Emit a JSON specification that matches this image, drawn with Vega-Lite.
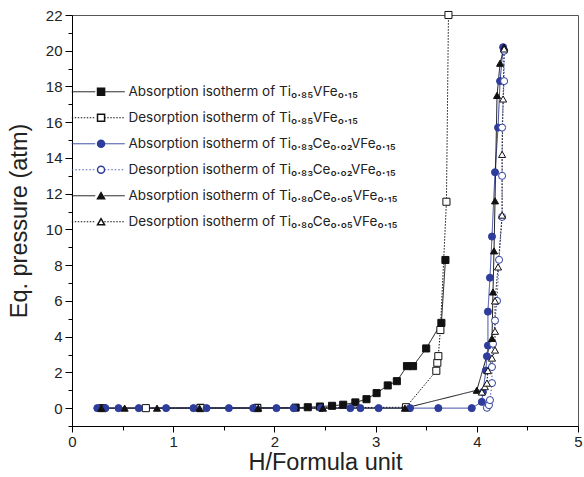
{
  "$schema": "https://vega.github.io/schema/vega-lite/v6.json",
  "width": 506,
  "height": 411,
  "autosize": "none",
  "padding": {"left": 72, "top": 15, "right": 6, "bottom": 51},
  "config": {
    "font": "Liberation Sans",
    "view": {"stroke": "#555", "strokeWidth": 1},
    "axis": {"domainColor": "#000", "tickColor": "#000", "labelColor": "#222", "titleColor": "#222", "grid": false, "labelFontSize": 15, "titleFontSize": 23.5, "titleFontWeight": "normal", "labelOverlap": false, "labelFlush": false, "tickWidth": 1, "domainWidth": 1}
  },
  "data": {"values": [
    {"s":"s1","i":1,"x":0.30,"y":0},{"s":"s1","i":2,"x":1.27,"y":0.02},{"s":"s1","i":3,"x":1.83,"y":0.02},{"s":"s1","i":4,"x":2.21,"y":0.03},{"s":"s1","i":5,"x":2.33,"y":0.05},{"s":"s1","i":6,"x":2.45,"y":0.09},{"s":"s1","i":7,"x":2.57,"y":0.13},{"s":"s1","i":8,"x":2.68,"y":0.19},{"s":"s1","i":9,"x":2.80,"y":0.32},{"s":"s1","i":10,"x":2.91,"y":0.5},{"s":"s1","i":11,"x":3.01,"y":0.84},{"s":"s1","i":12,"x":3.12,"y":1.27},{"s":"s1","i":13,"x":3.21,"y":1.51},{"s":"s1","i":14,"x":3.31,"y":2.35},{"s":"s1","i":15,"x":3.37,"y":2.35},{"s":"s1","i":16,"x":3.50,"y":3.34},{"s":"s1","i":17,"x":3.65,"y":4.77},{"s":"s1","i":18,"x":3.69,"y":8.29},
    {"s":"s2","i":20,"x":0.73,"y":0},{"s":"s2","i":21,"x":1.27,"y":0},{"s":"s2","i":22,"x":1.83,"y":0},{"s":"s2","i":23,"x":3.30,"y":0.05},{"s":"s2","i":24,"x":3.60,"y":2.09},{"s":"s2","i":25,"x":3.61,"y":2.54},{"s":"s2","i":26,"x":3.62,"y":2.91},{"s":"s2","i":27,"x":3.64,"y":4.37},{"s":"s2","i":28,"x":3.70,"y":11.55},{"s":"s2","i":29,"x":3.72,"y":22},
    {"s":"s3","i":31,"x":0.25,"y":0},{"s":"s3","i":32,"x":0.33,"y":0},{"s":"s3","i":33,"x":0.46,"y":0},{"s":"s3","i":34,"x":0.66,"y":0},{"s":"s3","i":35,"x":0.93,"y":0},{"s":"s3","i":36,"x":1.20,"y":0},{"s":"s3","i":37,"x":1.33,"y":0},{"s":"s3","i":38,"x":1.55,"y":0},{"s":"s3","i":39,"x":1.79,"y":0},{"s":"s3","i":40,"x":2.02,"y":0},{"s":"s3","i":41,"x":2.19,"y":0},{"s":"s3","i":42,"x":2.46,"y":0},{"s":"s3","i":43,"x":2.75,"y":0},{"s":"s3","i":44,"x":2.85,"y":0},{"s":"s3","i":45,"x":3.03,"y":0},{"s":"s3","i":46,"x":3.34,"y":0},{"s":"s3","i":47,"x":3.62,"y":0},{"s":"s3","i":48,"x":3.95,"y":0},{"s":"s3","i":49,"x":4.05,"y":0.35},{"s":"s3","i":50,"x":4.06,"y":0.9},{"s":"s3","i":51,"x":4.09,"y":2.1},{"s":"s3","i":52,"x":4.10,"y":2.9},{"s":"s3","i":53,"x":4.11,"y":3.5},{"s":"s3","i":54,"x":4.11,"y":5.4},{"s":"s3","i":55,"x":4.13,"y":7.3},{"s":"s3","i":56,"x":4.15,"y":9.6},{"s":"s3","i":57,"x":4.18,"y":13.2},{"s":"s3","i":58,"x":4.21,"y":15.7},{"s":"s3","i":59,"x":4.23,"y":18.3},{"s":"s3","i":60,"x":4.26,"y":20.2},
    {"s":"s4","i":61,"x":4.10,"y":0.02},{"s":"s4","i":62,"x":4.12,"y":0.17},{"s":"s4","i":63,"x":4.13,"y":0.45},{"s":"s4","i":64,"x":4.15,"y":1.4},{"s":"s4","i":65,"x":4.15,"y":2.3},{"s":"s4","i":66,"x":4.16,"y":3.6},{"s":"s4","i":67,"x":4.18,"y":4.9},{"s":"s4","i":68,"x":4.20,"y":6.0},{"s":"s4","i":69,"x":4.22,"y":8.3},{"s":"s4","i":70,"x":4.25,"y":10.7},{"s":"s4","i":71,"x":4.25,"y":13.0},{"s":"s4","i":72,"x":4.25,"y":15.7},{"s":"s4","i":73,"x":4.27,"y":18.3},{"s":"s4","i":74,"x":4.27,"y":20.0},
    {"s":"s5","i":75,"x":0.29,"y":0},{"s":"s5","i":76,"x":0.52,"y":0},{"s":"s5","i":77,"x":0.84,"y":0},{"s":"s5","i":78,"x":1.26,"y":0},{"s":"s5","i":79,"x":1.84,"y":0},{"s":"s5","i":80,"x":2.48,"y":0},{"s":"s5","i":81,"x":3.29,"y":0},{"s":"s5","i":82,"x":4.00,"y":1.0},{"s":"s5","i":83,"x":4.15,"y":3.9},{"s":"s5","i":84,"x":4.16,"y":6.5},{"s":"s5","i":85,"x":4.17,"y":8.8},{"s":"s5","i":86,"x":4.18,"y":11.6},{"s":"s5","i":87,"x":4.20,"y":17.5},{"s":"s5","i":88,"x":4.23,"y":19.3},{"s":"s5","i":89,"x":4.27,"y":20.2},
    {"s":"s6","i":90,"x":4.05,"y":0.9},{"s":"s6","i":91,"x":4.08,"y":1.2},{"s":"s6","i":92,"x":4.10,"y":1.4},{"s":"s6","i":93,"x":4.11,"y":2.1},{"s":"s6","i":94,"x":4.15,"y":2.8},{"s":"s6","i":95,"x":4.18,"y":3.25},{"s":"s6","i":96,"x":4.18,"y":4.3},{"s":"s6","i":97,"x":4.18,"y":6.0},{"s":"s6","i":98,"x":4.21,"y":7.9},{"s":"s6","i":99,"x":4.25,"y":10.8},{"s":"s6","i":100,"x":4.25,"y":14.2},{"s":"s6","i":101,"x":4.26,"y":17.3},{"s":"s6","i":102,"x":4.27,"y":20.1}
  ]},
  "encoding": {
    "x": {"field": "x", "type": "quantitative", "scale": {"domain": [0, 5], "nice": false, "zero": false},
      "axis": {"values": [0,0.5,1,1.5,2,2.5,3,3.5,4,4.5,5], "labelExpr": "datum.value % 1 === 0 ? format(datum.value,'d') : ''", "tickSize": {"condition": {"test": "datum.value % 1 === 0", "value": 6}, "value": 4}, "labelPadding": 2, "title": "H/Formula unit", "titlePadding": 1}},
    "y": {"field": "y", "type": "quantitative", "scale": {"domain": [-1, 22], "nice": false, "zero": false},
      "axis": {"values": [-1,0,1,2,3,4,5,6,7,8,9,10,11,12,13,14,15,16,17,18,19,20,21,22], "labelExpr": "datum.value % 2 === 0 ? format(datum.value,'d') : ''", "tickSize": {"condition": {"test": "datum.value % 2 === 0", "value": 7}, "value": 4}, "labelPadding": 3, "title": "Eq. pressure (atm)", "titlePadding": 14}}
  },
  "layer": [
    {
      "mark": {"type": "line", "strokeWidth": 1},
      "encoding": {
        "order": {"field": "i", "type": "quantitative"},
        "color": {"field": "s", "type": "nominal",
          "scale": {"domain": ["s1","s2","s3","s4","s5","s6"], "range": ["#111","#111","#2e3d9c","#4a5bc0","#111","#111"]},
          "legend": {"orient": "none", "legendX": 21, "legendY": 70, "title": null, "padding": 0, "symbolSize": 100, "symbolStrokeWidth": 1, "labelOffset": 22, "labelFont": "Inter", "labelFontSize": 13.5, "labelLimit": 0, "labelColor": "#222", "rowPadding": 11,
            "labelExpr": "datum.value==='s1' ? 'Absorption isotherm of Ti₀.₈₅VFe₀.₁₅' : datum.value==='s2' ? 'Desorption isotherm of Ti₀.₈₅VFe₀.₁₅' : datum.value==='s3' ? 'Absorption isotherm of Ti₀.₈₃Ce₀.₀₂VFe₀.₁₅' : datum.value==='s4' ? 'Desorption isotherm of Ti₀.₈₃Ce₀.₀₂VFe₀.₁₅' : datum.value==='s5' ? 'Absorption isotherm of Ti₀.₈₀Ce₀.₀₅VFe₀.₁₅' : 'Desorption isotherm of Ti₀.₈₀Ce₀.₀₅VFe₀.₁₅'",
            "encode": {
              "symbols": {"update": {
              "shape": {"value": "M-5.6,0H-0.9M0.9,0H5"},
              "fill": {"value": "transparent"},
              "strokeDash": {"signal": "datum.value==='s2'||datum.value==='s4'||datum.value==='s6' ? [1.5,1.5] : []"}
            }}}
          }},
        "strokeDash": {"field": "s", "type": "nominal", "scale": {"domain": ["s1","s2","s3","s4","s5","s6"], "range": [[1,0],[1.5,1.5],[1,0],[1.5,2],[1,0],[1.5,1.5]]}, "legend": null}
      }
    },
    {
      "mark": {"type": "point", "filled": true, "strokeWidth": 1, "opacity": 1, "size": 50},
      "encoding": {
        "shape": {"field": "s", "type": "nominal", "scale": {"range": ["square","square","circle","circle","triangle-up","triangle-up"]},
          "legend": {"orient": "none", "legendX": 22.3, "legendY": 70, "title": null, "padding": 0, "symbolSize": 50, "labelOffset": 22, "labelFont": "Inter", "labelFontSize": 13.5, "labelLimit": 0, "rowPadding": 11,
            "labelExpr": "''",
            "encode": {"symbols": {"update": {
              "fill": {"signal": "datum.value==='s1'||datum.value==='s5' ? '#111' : datum.value==='s3' ? '#2e3d9c' : 'white'"},
              "stroke": {"signal": "datum.value==='s3'||datum.value==='s4' ? '#2e3d9c' : '#111'"},
              "strokeWidth": {"value": 1},
              "opacity": {"value": 1}
            }}}
          }},
        "fill": {"field": "s", "type": "nominal", "scale": {"range": ["#111","white","#2e3d9c","white","#111","white"]}, "legend": null},
        "stroke": {"field": "s", "type": "nominal", "scale": {"range": ["#111","#111","#2e3d9c","#2e3d9c","#111","#111"]}, "legend": null}
      }
    }
  ]
}
